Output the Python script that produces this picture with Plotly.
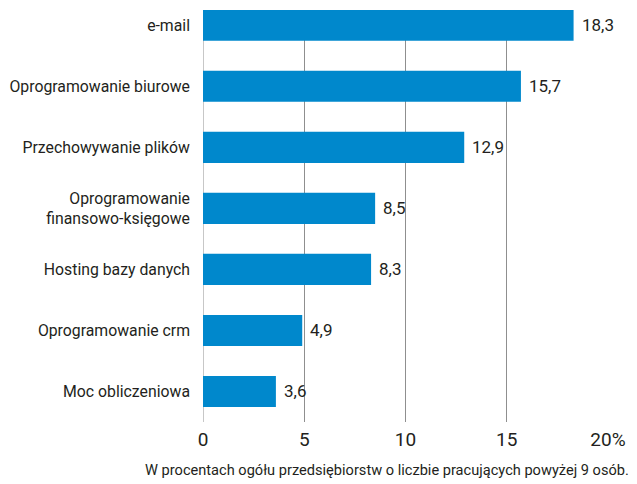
import plotly.graph_objects as go

categories = ["e-mail", "Oprogramowanie biurowe", "Przechowywanie plików",
              "Oprogramowanie<br>finansowo-księgowe", "Hosting bazy danych",
              "Oprogramowanie crm", "Moc obliczeniowa"]
values = [18.3, 15.7, 12.9, 8.5, 8.3, 4.9, 3.6]
value_labels = ["18,3", "15,7", "12,9", "8,5", "8,3", "4,9", "3,6"]
tick_vals = [0, 5, 10, 15, 20]
tick_text = ["0", "5", "10", "15", "20%"]
footnote = "W procentach ogółu przedsiębiorstw o liczbie pracujących powyżej 9 osób."

FONT = "Roboto, Liberation Sans, sans-serif"
TXT = "#231f20"

def f(size):
    return dict(family=FONT, size=size, color=TXT)

fig = go.Figure(go.Bar(
    y=categories, x=values, orientation="h",
    marker=dict(color="#0088cc", line=dict(width=0)),
    width=0.51,
))

for c, v, t in zip(categories, values, value_labels):
    fig.add_annotation(x=v, y=c, text=t, showarrow=False, xanchor="left",
                       xshift=6, font=f(17))

fig.add_annotation(x=1, y=0, xref="paper", yref="paper", yshift=-48, xshift=23,
                   text=footnote, showarrow=False, xanchor="right", yanchor="middle",
                   font=f(14.6))

fig.update_layout(
    width=629, height=476,
    margin=dict(l=195, r=29, t=2, b=62),
    paper_bgcolor="white", plot_bgcolor="white",
    showlegend=False,
    xaxis=dict(range=[0, 20], tickvals=tick_vals, ticktext=tick_text,
               showgrid=True, gridcolor="#8f8f8f", gridwidth=1,
               zeroline=False, showline=False, ticks="", automargin=False,
               tickfont=f(19), ticklabelstandoff=4),
    yaxis=dict(categoryorder="array", categoryarray=categories,
               range=[6.5, -0.25], showgrid=False, zeroline=False,
               showline=False, ticks="", automargin=False,
               tickfont=f(15.8), ticklabelstandoff=12),
)
fig.add_vline(x=0, line=dict(color="#8f8f8f", width=1), layer="below")

fig.write_html("out.html")
